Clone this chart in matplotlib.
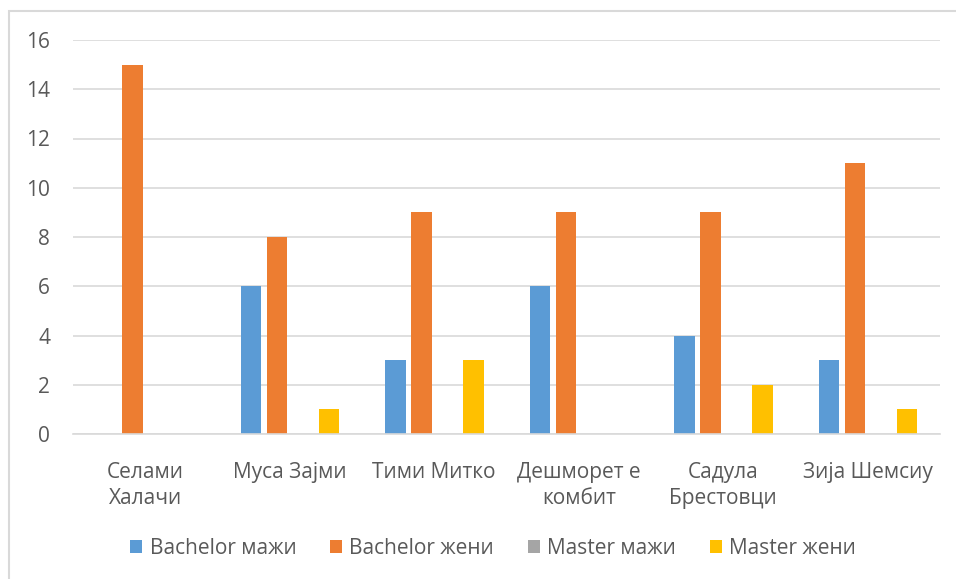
import matplotlib
matplotlib.use("Agg")
import matplotlib.pyplot as plt
from matplotlib.patches import Rectangle
import numpy as np

categories = ["Селами\nХалачи", "Муса Зајми", "Тими Митко", "Дешморет е\nкомбит", "Садула\nБрестовци", "Зија Шемсиу"]
series_names = ["Bachelor мажи", "Bachelor жени", "Master мажи", "Master жени"]
bachelor_m = [0, 6, 3, 6, 4, 3]
bachelor_f = [15, 8, 9, 9, 9, 11]
master_m = [0, 0, 0, 0, 0, 0]
master_f = [0, 1, 3, 0, 2, 1]
yticks = [0, 2, 4, 6, 8, 10, 12, 14, 16]

colors = ["#5B9BD5", "#ED7D31", "#A5A5A5", "#FFC000"]
plt.rcParams['font.family'] = ['Open Sans', 'DejaVu Sans']
fs = 15

W, H = 956, 579
fig = plt.figure(figsize=(W/100, H/100), dpi=100)
ax = fig.add_axes([73/W, 1-434/H, (940-73)/W, (434-40)/H])

x = np.arange(len(categories))
slot = 26/144.5
bw = 20.5/144.5
all_series = [bachelor_m, bachelor_f, master_m, master_f]
for i, (vals, name, c) in enumerate(zip(all_series, series_names, colors)):
    ax.bar(x + (i-1.5)*slot, vals, bw, color=c, label=name, zorder=3)

ax.set_xlim(-0.5, len(categories)-0.5)
ax.set_ylim(0, 16)
ax.set_yticks(yticks)
ax.set_xticks(x)
ax.set_xticklabels(categories, fontsize=fs, color="#595959", linespacing=1.3)
ax.tick_params(axis='y', labelsize=fs, labelcolor="#595959", length=0, pad=16.5)
ax.tick_params(axis='x', length=0, pad=20)
ax.grid(axis='y', color="#D9D9D9", linewidth=1.2, zorder=0)
for s in ["top", "right", "left"]:
    ax.spines[s].set_visible(False)
ax.spines["bottom"].set_color("#D9D9D9")
ax.spines["bottom"].set_linewidth(1.2)
ax.spines["bottom"].set_zorder(4)

leg = fig.legend(loc="center", bbox_to_anchor=(493/W, 1-548/H), ncol=4, frameon=False,
                 fontsize=fs, handlelength=0.6, handleheight=0.6, columnspacing=1.6, handletextpad=0.35)
for t in leg.get_texts():
    t.set_color("#595959")

fig.patches.append(Rectangle((9/W, -0.1), 1.2, 1-11/H+0.1, transform=fig.transFigure,
                             fill=False, edgecolor="#D9D9D9", linewidth=1.5))
fig.savefig("out.png", dpi=100, facecolor="white")
